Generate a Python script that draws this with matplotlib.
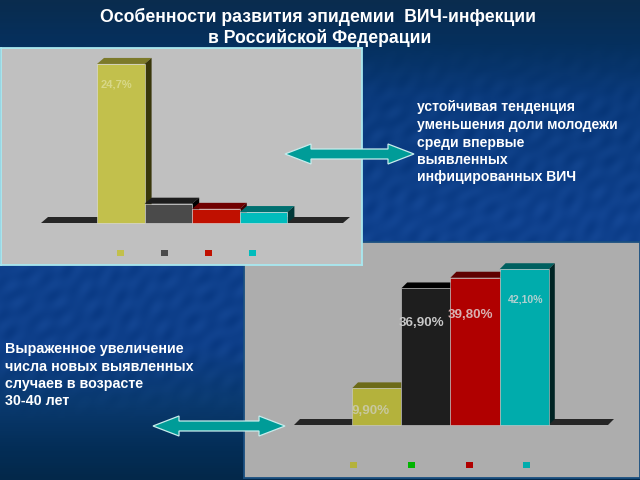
import numpy as np
import matplotlib
matplotlib.use("Agg")
import matplotlib.pyplot as plt
from matplotlib.patches import Polygon, Rectangle
from matplotlib.colors import LinearSegmentedColormap

plt.rcParams['font.family'] = ['Liberation Sans', 'DejaVu Sans']

title_lines = ["Особенности развития эпидемии  ВИЧ-инфекции", "в Российской Федерации"]
text_right = ["устойчивая тенденция", "уменьшения доли молодежи", "среди впервые", "выявленных", "инфицированных ВИЧ"]
text_left = ["Выраженное увеличение", "числа новых выявленных", "случаев в возрасте", "30-40 лет"]

values_top = [24.7, 3.0, 2.2, 1.7]
labels_top = ["24,7%", "", "", ""]
colors_top = ["#c2c04c", "#4a4a4a", "#c01000", "#00bcbc"]
tops_top = ["#7c7a2a", "#1c1c1c", "#700000", "#007070"]
sides_top = ["#38360a", "#000000", "#400000", "#003838"]
legend_top = ["#c2c04c", "#4a4a4a", "#c01000", "#00bcbc"]

values_bot = [9.9, 36.9, 39.8, 42.1]
labels_bot = ["9,90%", "36,90%", "39,80%", "42,10%"]
colors_bot = ["#b4b23c", "#1e1e1e", "#b00000", "#00acac"]
tops_bot = ["#6c6a18", "#000000", "#600000", "#006060"]
sides_bot = ["#38360a", "#000000", "#400000", "#002424"]
legend_bot = ["#b4b23c", "#00b400", "#b00000", "#00acac"]

fig = plt.figure(figsize=(6.4, 4.8), dpi=100)

# page background: vertical gradient with a faint diagonal mottling
bg = fig.add_axes([0, 0, 1, 1], zorder=0)
stops = [(0.0, "#0a2c4e"), (0.09, "#05305e"), (0.2, "#0a3a7c"), (0.45, "#0f418e"),
         (0.72, "#0e3f8a"), (0.84, "#0a3a70"), (0.93, "#042e58"), (1.0, "#03284a")]
cmap = LinearSegmentedColormap.from_list("bg", stops)
yy, xx = np.mgrid[0:480, 0:640]
grad = cmap(yy / 479.0)[..., :3]
u = xx * 0.7 + yy * 0.7
v = xx * 0.7 - yy * 0.7
tex = (np.sin(v * 0.11 + 2 * np.sin(u * 0.021)) * np.sin(u * 0.37 + np.sin(v * 0.05))
       + 0.6 * np.sin(v * 0.23 + 3 * np.sin(u * 0.013)) * np.sin(u * 0.19))
amp = np.clip((yy - 40) / 80.0, 0, 1) * np.clip((420 - yy) / 60.0, 0, 1)
grad = np.clip(grad + (tex * amp * 0.012)[..., None] * np.array([1.0, 1.2, 1.5]), 0, 1)
bg.imshow(grad, aspect="auto", extent=[0, 640, 480, 0], interpolation="bilinear")
bg.set_xlim(0, 640); bg.set_ylim(480, 0); bg.axis("off")


def bar_panel(rect, face, edge, values, labels, colors, tops, sides, legend,
              x0, bw, base, unit, dx, dy, floor, leg_xs, leg_y, lab_px, fs, lab_col, sep):
    l, t, w, h = rect
    ax = fig.add_axes([l/640, 1-(t+h)/480, w/640, h/480], zorder=2)
    ax.set_xlim(l, l+w); ax.set_ylim(t+h, t)
    ax.set_xticks([]); ax.set_yticks([])
    ax.set_facecolor(face)
    for s in ax.spines.values():
        s.set_color(edge); s.set_linewidth(1.3)
    ax.add_patch(Polygon([(floor[0], base), (floor[1], base), (floor[1]+dx, base-dy), (floor[0]+dx, base-dy)],
                         color="#262626", lw=0, zorder=1))
    for i, v in enumerate(values):
        xl = x0 + i*bw
        top = base - v*unit
        ax.add_patch(Polygon([(xl, top), (xl+bw, top), (xl+bw+dx, top-dy), (xl+dx, top-dy)],
                             color=tops[i], lw=0, zorder=2+i))
        ax.add_patch(Polygon([(xl+bw, top), (xl+bw+dx, top-dy), (xl+bw+dx, base-dy), (xl+bw, base)],
                             color=sides[i], lw=0, zorder=2+i))
        ax.add_patch(Rectangle((xl, top), bw, v*unit, facecolor=colors[i],
                               edgecolor=sep, lw=0.4, zorder=2+i))
        if labels[i]:
            ax.text(lab_px[i][0], lab_px[i][1], labels[i], color=lab_col[i], fontsize=fs[i],
                    ha="center", va="center", fontweight="bold", zorder=20)
    for lx, c in zip(leg_xs, legend):
        ax.add_patch(Rectangle((lx-3, leg_y-3), 6.5, 6, color=c, lw=0, zorder=3))
    return ax


bar_panel((244, 242, 396, 236), "#adadad", "#1a4f80", values_bot, labels_bot, colors_bot, tops_bot, sides_bot, legend_bot,
          352, 49.2, 425, 3.70, 6, 6, (294, 608), [353, 411, 469, 526], 465,
          [(371, 411), (421, 323), (470, 315), (526, 299)], [9.6, 9.6, 9.6, 7.6],
          ["#c8c8a0", "#c8c8c8", "#d8b0b0", "#b0d0d0"], "#d0d0d0")
bar_panel((1, 48, 361, 217), "#c0c0c0", "#a8e8f0", values_top, labels_top, colors_top, tops_top, sides_top, legend_top,
          97, 47.6, 223, 6.44, 7, 6, (41, 343), [120, 164, 208, 252], 253,
          [(116, 84), (0, 0), (0, 0), (0, 0)], [8, 8, 8, 8], ["#d8d888", "", "", ""], "#e0e0e0")

ov = fig.add_axes([0, 0, 1, 1], zorder=5)
ov.set_xlim(0, 640); ov.set_ylim(480, 0); ov.axis("off")
ov.patch.set_alpha(0)


def double_arrow(x1, x2, y):
    hw, hl, sw = 10, 26, 5
    pts = [(x1, y), (x1+hl, y-hw), (x1+hl, y-sw), (x2-hl, y-sw), (x2-hl, y-hw), (x2, y),
           (x2-hl, y+hw), (x2-hl, y+sw), (x1+hl, y+sw), (x1+hl, y+hw)]
    ov.add_patch(Polygon(pts, closed=True, facecolor="#009c98", edgecolor="#c8ecec", lw=0.9))


double_arrow(285, 414, 154)
double_arrow(153, 285, 426)

ov.text(318, 17, title_lines[0], color="white", fontsize=12.7, fontweight="bold", ha="center", va="center")
ov.text(320, 38, title_lines[1], color="white", fontsize=12.7, fontweight="bold", ha="center", va="center")
for s, y in zip(text_right, [107, 124.5, 142.5, 159.5, 176.5]):
    ov.text(417, y, s, color="white", fontsize=10.1, fontweight="bold", ha="left", va="center")
for s, y in zip(text_left, [349, 367, 384, 401]):
    ov.text(5, y, s, color="white", fontsize=10.3, fontweight="bold", ha="left", va="center")

fig.savefig("out.png", dpi=100)
